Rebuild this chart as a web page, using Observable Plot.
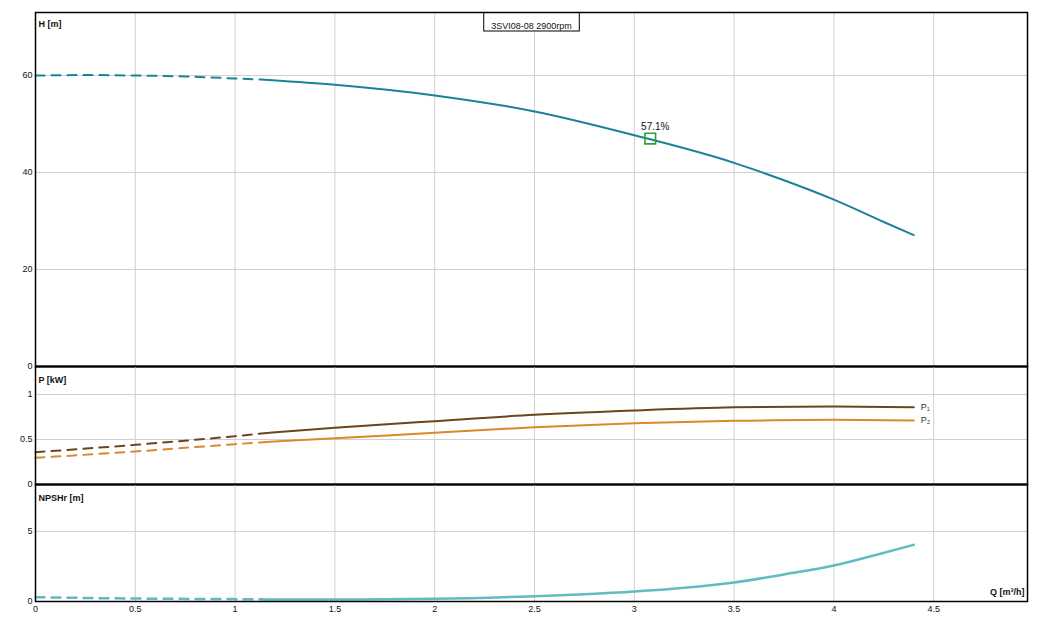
<!DOCTYPE html>
<html><head><meta charset="utf-8">
<script src="https://cdn.jsdelivr.net/npm/d3@7"></script>
<script src="https://cdn.jsdelivr.net/npm/@observablehq/plot@0.6"></script>
<style>
body{margin:0;background:#fff;}
#chart{position:relative;width:1042px;height:624px;font-family:"Liberation Sans",Arial,sans-serif;}
#chart svg{position:absolute;left:0;overflow:visible;}
</style></head><body><div id="chart"></div>
<script>
// ---- data ----
const title = "3SVI08-08 2900rpm";
const splitQ = 1.17; // dashed below this flow

const qH = [0, 0.25, 0.5, 0.75, 1.0, 1.17, 1.5, 2.0, 2.5, 3.0, 3.5, 3.75, 4.0, 4.25, 4.4];
const H  = [60.0, 60.1, 60.0, 59.8, 59.4, 59.1, 58.1, 55.9, 52.6, 47.7, 42.0, 38.4, 34.4, 29.8, 27.1];

const qP = [0, 0.5, 1.0, 1.17, 1.5, 2.0, 2.5, 3.0, 3.5, 4.0, 4.4];
const P1 = [0.359, 0.441, 0.537, 0.574, 0.630, 0.704, 0.774, 0.822, 0.857, 0.867, 0.859];
const P2 = [0.296, 0.367, 0.448, 0.474, 0.515, 0.574, 0.637, 0.681, 0.707, 0.719, 0.711];

const qN = [0, 0.5, 1.0, 1.17, 1.5, 2.0, 2.5, 2.75, 3.0, 3.25, 3.5, 3.75, 4.0, 4.2, 4.4];
const N  = [0.31, 0.21, 0.17, 0.15, 0.14, 0.19, 0.38, 0.52, 0.71, 0.98, 1.36, 1.93, 2.57, 3.29, 4.05];

const bep = {q: 3.08, h: 47.0, label: "57.1%"};

const xTicks = [0, 0.5, 1, 1.5, 2, 2.5, 3, 3.5, 4, 4.5];
const hTicks = [0, 20, 40, 60];
const pTicks = [0, 0.5, 1];
const nTicks = [0, 5];

const xDomain = [0, 4.97];
const hDomain = [0, 73];
const pDomain = [0, 1.311];
const nDomain = [0, 8.36];

// ---- helpers ----
const rows = (qs, vs) => qs.map((q, i) => ({q, v: vs[i]}));
const FONT = '"Liberation Sans", Arial, sans-serif';
const chart = document.getElementById("chart");
const W = 1042, ML = 35, MR = 15;

function curve(data, color, width) {
  return [
    Plot.line(data.filter(d => d.q <= splitQ), {x: "q", y: "v", stroke: color, strokeWidth: width, strokeDasharray: "9,7", curve: "monotone-x"}),
    Plot.line(data.filter(d => d.q >= splitQ), {x: "q", y: "v", stroke: color, strokeWidth: width, curve: "monotone-x"})
  ];
}

function panel({top, height, mt, mb, yDomain, yTicks, marks, showX, sep}) {
  const p = Plot.plot({
    width: W, height, marginLeft: ML, marginRight: MR, marginTop: mt, marginBottom: mb,
    style: {background: "transparent", fontFamily: FONT, fontSize: "9px", overflow: "visible", color: "#111"},
    x: {domain: xDomain},
    y: {domain: yDomain},
    marks: [
      Plot.gridX(xTicks, {stroke: "#d0d0d0", strokeOpacity: 1}),
      Plot.gridY(yTicks, {stroke: "#d0d0d0", strokeOpacity: 1}),
      Plot.axisY(yTicks, {tickSize: 0, tickPadding: 3, label: null, tickFormat: d => String(d), fontSize: 9}),
      showX ? Plot.axisX(xTicks, {tickSize: 0, tickPadding: 4, label: null, tickFormat: d => String(d), fontSize: 9}) : Plot.axisX([], {label: null}),
      ...marks,
      Plot.frame({stroke: "#000", strokeWidth: 1.5}),
      sep ? Plot.ruleY([yDomain[0]], {stroke: "#000", strokeWidth: 2}) : null
    ]
  });
  p.style.top = top + "px";
  chart.append(p);
  return p;
}

// ---- panel 1: head ----
const p1 = panel({
  top: 0, height: 378, mt: 12, mb: 12, yDomain: hDomain, yTicks: hTicks, sep: true,
  marks: [
    ...curve(rows(qH, H), "#1a8399", 2),
    Plot.dot([bep], {x: "q", y: "h", symbol: "square", r: 6, stroke: "#2ea02e", strokeWidth: 1.6, fill: "none"}),
    Plot.text([bep], {x: "q", y: "h", text: "label", dx: 5, dy: -12, fontSize: 10, fill: "#111"}),
    Plot.text(["H [m]"], {text: d => d, frameAnchor: "top-left", dx: 3, dy: 8, textAnchor: "start", fontWeight: "bold", fontSize: 9, fill: "#111"}),
    Plot.text([title], {text: d => d, frameAnchor: "top", dy: 10, fontSize: 9, fill: "#111"})
  ]
});

// title box around the title text (placed in SVG coordinates)
{
  const sr = p1.getBoundingClientRect();
  for (const t of p1.querySelectorAll("text")) {
    if (t.textContent === title) {
      const b = t.getBoundingClientRect();
      const r = document.createElementNS("http://www.w3.org/2000/svg", "rect");
      r.setAttribute("x", b.left - sr.left - 7.5);
      r.setAttribute("width", b.width + 15);
      r.setAttribute("y", 12.5);
      r.setAttribute("height", 18.5);
      r.setAttribute("fill", "#fff");
      r.setAttribute("stroke", "#000");
      r.setAttribute("stroke-width", 1);
      let top = t;
      while (top.parentNode !== p1) top = top.parentNode;
      p1.insertBefore(r, top);
    }
  }
}

// ---- panel 2: power ----
const p1rows = rows(qP, P1), p2rows = rows(qP, P2);
panel({
  top: 354, height: 142, mt: 12, mb: 12, yDomain: pDomain, yTicks: pTicks, sep: true,
  marks: [
    ...curve(p2rows, "#d98a2b", 2),
    ...curve(p1rows, "#6b461c", 2),
    Plot.text([p1rows[p1rows.length - 1]], {x: "q", y: "v", text: () => "P₁", dx: 7, textAnchor: "start", fontSize: 9, fill: "#333"}),
    Plot.text([p2rows[p2rows.length - 1]], {x: "q", y: "v", text: () => "P₂", dx: 7, textAnchor: "start", fontSize: 9, fill: "#333"}),
    Plot.text(["P [kW]"], {text: d => d, frameAnchor: "top-left", dx: 3, dy: 10, textAnchor: "start", fontWeight: "bold", fontSize: 9, fill: "#111"})
  ]
});

// ---- panel 3: NPSHr ----
panel({
  top: 472, height: 152, mt: 12, mb: 23, yDomain: nDomain, yTicks: nTicks, showX: true, sep: false,
  marks: [
    ...curve(rows(qN, N), "#5fbcc0", 2.5),
    Plot.text(["NPSHr [m]"], {text: d => d, frameAnchor: "top-left", dx: 3, dy: 10, textAnchor: "start", fontWeight: "bold", fontSize: 9, fill: "#111"}),
    Plot.text(["Q [m³/h]"], {text: d => d, frameAnchor: "bottom-right", dx: -3, dy: -7, textAnchor: "end", fontWeight: "bold", fontSize: 9, fill: "#111"})
  ]
});
</script></body></html>
